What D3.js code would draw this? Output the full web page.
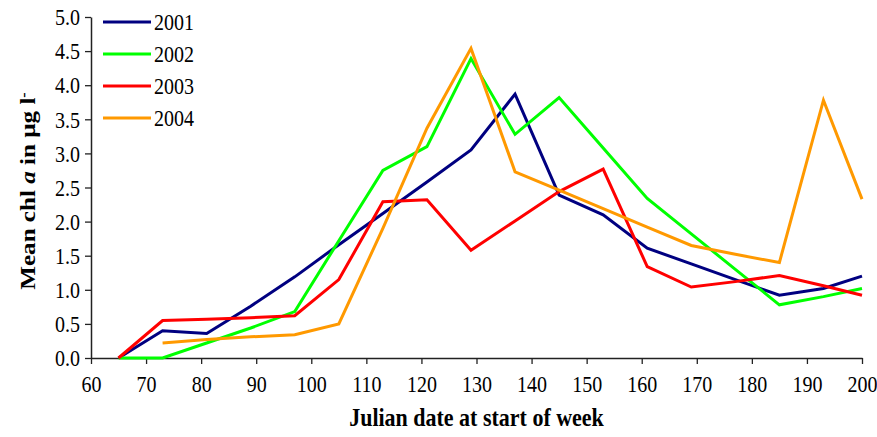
<!DOCTYPE html>
<html>
<head>
<meta charset="utf-8">
<script src="https://cdn.jsdelivr.net/npm/d3@7"></script>
<style>
  html, body { margin: 0; padding: 0; background: #fff; }
  svg { display: block; font-family: "Liberation Serif", "Times New Roman", serif; }
</style>
</head>
<body>
<svg id="chart" width="877" height="437"></svg>
<script>
// Julian day at the start of each sampling week
const days = [65, 73, 81, 89, 97, 105, 113, 121, 129, 137, 145, 153, 161, 169, 177, 185, 193, 200];

// Weekly mean chlorophyll a (µg/l); null = no sample that week
const chl2001 = [0.00, 0.40, 0.36, 0.76, 1.19, 1.66, 2.12, 2.58, 3.05, 3.87, 2.39, 2.10, 1.61, 1.38, 1.15, 0.92, 1.02, 1.20];
const chl2002 = [0.00, 0.00, 0.22, 0.44, 0.68, 1.72, 2.75, 3.10, 4.39, 3.28, 3.82, 3.08, 2.34, 1.82, 1.30, 0.78, 0.90, 1.02];
const chl2003 = [0.00, 0.55, 0.57, 0.59, 0.62, 1.15, 2.29, 2.32, 1.58, 2.01, 2.44, 2.77, 1.34, 1.04, 1.12, 1.21, 1.06, 0.92];
const chl2004 = [null, 0.22, 0.27, 0.31, 0.34, 0.50, 1.90, 3.37, 4.54, 2.73, 2.46, 2.19, 1.92, 1.65, 1.52, 1.40, 3.78, 2.33];

const seriesNames = ["2001", "2002", "2003", "2004"];
const seriesColors = ["#000080", "#00ff00", "#ff0000", "#ff9900"];
const seriesValues = [chl2001, chl2002, chl2003, chl2004];

const xTicks = d3.range(60, 201, 10);
const yTicks = d3.range(0, 5.01, 0.5);

const svg = d3.select("#chart");
const margin = { left: 91, right: 15, top: 17, bottom: 79 };
const W = 877, H = 437;
// text in this figure is set slightly tall and narrow
const stretch = 1.14;

const x = d3.scaleLinear().domain([60, 200]).range([margin.left, W - margin.right]);
const y = d3.scaleLinear().domain([0, 5]).range([H - margin.bottom, margin.top]);

// Axes
const xAxis = svg.append("g")
  .attr("transform", `translate(0,${y(0)})`)
  .call(d3.axisBottom(x).tickValues(xTicks).tickFormat(d3.format("d")).tickSizeInner(6).tickSizeOuter(0).tickPadding(12));

const yAxis = svg.append("g")
  .attr("transform", `translate(${x(60)},0)`)
  .call(d3.axisLeft(y).tickValues(yTicks).tickFormat(d3.format(".1f")).tickSizeInner(6).tickSizeOuter(0).tickPadding(5));

[xAxis, yAxis].forEach(g => {
  g.selectAll("path.domain").attr("stroke", "#222").attr("stroke-width", 1.5);
  g.selectAll(".tick line").attr("stroke", "#222").attr("stroke-width", 1.3);
  g.selectAll(".tick text")
    .attr("fill", "#000")
    .style("font-family", "'Liberation Serif', 'Times New Roman', serif")
    .style("font-size", "20px")
    .each(function () {
      const t = d3.select(this);
      const ty = +t.attr("y") || 0;
      t.attr("y", 0).attr("transform", `translate(0,${ty}) scale(1,${stretch})`);
    });
});
yAxis.selectAll(".tick text").attr("dy", "0.34em");

// Series lines
const line = d3.line()
  .defined(d => d[1] != null)
  .x(d => x(d[0]))
  .y(d => y(d[1]));

seriesValues.forEach((vals, i) => {
  svg.append("path")
    .datum(days.map((d, j) => [d, vals[j]]))
    .attr("fill", "none")
    .attr("stroke", seriesColors[i])
    .attr("stroke-width", 3)
    .attr("stroke-linejoin", "miter")
    .attr("d", line);
});

// Legend
const legend = svg.append("g").attr("transform", "translate(103,22)");
seriesNames.forEach((name, i) => {
  const row = legend.append("g").attr("transform", `translate(0,${i * 32})`);
  row.append("line")
    .attr("x1", 0).attr("x2", 48).attr("y1", 0).attr("y2", 0)
    .attr("stroke", seriesColors[i]).attr("stroke-width", 3);
  row.append("text")
    .attr("transform", `translate(51,0) scale(1,${stretch})`)
    .attr("dy", "0.35em")
    .style("font-size", "20px")
    .text(name);
});

// Axis titles
svg.append("text")
  .attr("transform", `translate(${(x(60) + x(200)) / 2},426) scale(1,${stretch})`)
  .attr("text-anchor", "middle")
  .style("font-size", "22px")
  .style("font-weight", "bold")
  .text("Julian date at start of week");

const yTitle = svg.append("text")
  .attr("transform", `translate(35,191) scale(1,${stretch}) rotate(-90)`)
  .attr("text-anchor", "middle")
  .style("font-size", "22px")
  .style("font-weight", "bold");
yTitle.append("tspan").text("Mean chl ");
yTitle.append("tspan").style("font-style", "italic").text("a");
yTitle.append("tspan").text(" in µg l");
yTitle.append("tspan").attr("dy", "-0.5em").style("font-size", "14px").text("-");
</script>
</body>
</html>
